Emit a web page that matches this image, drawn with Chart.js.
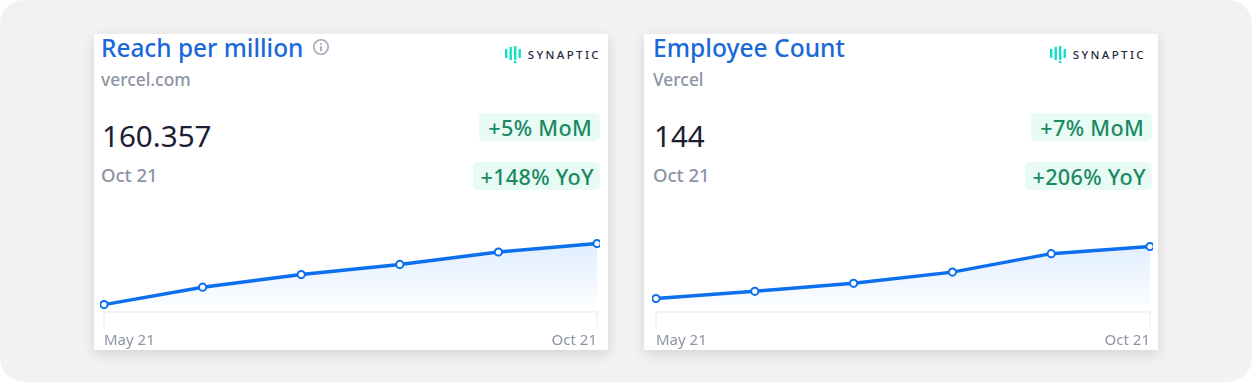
<!DOCTYPE html>
<html>
<head>
<meta charset="utf-8">
<script src="https://cdn.jsdelivr.net/npm/chart.js@4"></script>
<style>
html,body{margin:0;padding:0;background:#fff;}
#page{position:relative;width:1252px;height:382px;background:#f2f2f2;border-radius:24px;overflow:hidden;font-family:"Noto Sans",sans-serif;}
.card{position:absolute;top:34px;width:514px;height:316px;background:#fff;box-shadow:0 4px 12px rgba(0,0,0,0.13);}
.title{position:absolute;left:6px;top:-2px;font-size:24.6px;line-height:32px;font-weight:500;color:#1a69d8;white-space:nowrap;}
.sub{position:absolute;left:7px;top:33.5px;font-size:17.4px;line-height:22px;font-weight:500;color:#8d93a5;}
.value{position:absolute;left:8px;top:82px;font-size:29.6px;line-height:40px;color:#1b2033;}
.date{position:absolute;left:7px;top:130px;font-size:18.5px;line-height:22px;font-weight:500;color:#8d93a5;}
.badge{position:absolute;right:8px;height:28px;line-height:29px;padding:0 6px 0 8px;background:#e8fbf4;border-radius:5px;color:#1b8a63;font-size:21.6px;font-weight:500;letter-spacing:0.3px;white-space:nowrap;}
.mom{padding:0 8px 0 9px;}
.logo{position:absolute;right:9px;top:11px;height:18px;display:flex;align-items:center;}
.logo svg{margin-right:6px;}
.logo span{font-size:11.5px;font-weight:500;letter-spacing:2.35px;color:#1f2a44;margin-right:-2px;}
.info{position:absolute;left:218px;top:4px;}
canvas{position:absolute;}
</style>
</head>
<body>
<div id="page">
  <div class="card" style="left:94px">
    <div class="title" style="left:7px;font-size:24.4px">Reach per million</div>
    <svg class="info" width="18" height="18" viewBox="0 0 18 18"><circle cx="9" cy="9" r="7.2" fill="none" stroke="#a4a9b6" stroke-width="1.6"/><rect x="8.2" y="8" width="1.7" height="5" fill="#a4a9b6"/><rect x="8.2" y="5" width="1.7" height="1.8" fill="#a4a9b6"/></svg>
    <div class="sub">vercel.com</div>
    <div class="value">160.357</div>
    <div class="date">Oct 21</div>
    <div class="logo"><svg width="17" height="18" viewBox="0 0 17 18" fill="#10e0c8"><rect x="0" y="4" width="2.4" height="9"/><rect x="4.5" y="2" width="2.4" height="13"/><rect x="9" y="1" width="2.4" height="14"/><rect x="9" y="16" width="2.4" height="2"/><rect x="13.5" y="4" width="2.4" height="9"/></svg><span>SYNAPTIC</span></div>
    <div class="badge mom" style="top:79px">+5% MoM</div>
    <div class="badge" style="top:128px">+148% YoY</div>
    <canvas id="reachChart"></canvas>
  </div>
  <div class="card" style="left:644px">
    <div class="title" style="left:9px">Employee Count</div>
    <div class="sub" style="left:9px">Vercel</div>
    <div class="value" style="left:10px">144</div>
    <div class="date" style="left:9px">Oct 21</div>
    <div class="logo" style="right:14px"><svg width="17" height="18" viewBox="0 0 17 18" fill="#10e0c8"><rect x="0" y="4" width="2.4" height="9"/><rect x="4.5" y="2" width="2.4" height="13"/><rect x="9" y="1" width="2.4" height="14"/><rect x="9" y="16" width="2.4" height="2"/><rect x="13.5" y="4" width="2.4" height="9"/></svg><span>SYNAPTIC</span></div>
    <div class="badge mom" style="top:79px;right:6px">+7% MoM</div>
    <div class="badge" style="top:128px;right:6px">+206% YoY</div>
    <canvas id="employeeChart"></canvas>
  </div>
</div>
<script>
var months = ['May 21', 'Jun 21', 'Jul 21', 'Aug 21', 'Sep 21', 'Oct 21'];
var reachValues = [105.4, 121, 132.4, 141.5, 152.7, 160.357];
var employeeValues = [79, 88, 98, 112, 135, 144];

function makeChart(id, values, yMin, yMax, left, width) {
    var canvas = document.getElementById(id);
    canvas.style.left = left + 'px';
    canvas.style.top = '166px';
    canvas.width = width;
    canvas.height = 150;
    return new Chart(canvas, {
        type: 'line',
        data: {
            labels: months,
            datasets: [{
                data: values,
                borderColor: '#0b6fee',
                borderWidth: 3.4,
                pointRadius: 3.6,
                pointBorderWidth: 2,
                pointBackgroundColor: '#ffffff',
                pointBorderColor: '#0b6fee',
                tension: 0,
                fill: 'start',
                clip: false,
                backgroundColor: function (ctx) {
                    var area = ctx.chart.chartArea;
                    if (!area) return 'rgba(20,125,255,0.1)';
                    var top = ctx.chart.scales.y.getPixelForValue(values[values.length - 1]);
                    var g = ctx.chart.ctx.createLinearGradient(0, top, 0, area.bottom);
                    g.addColorStop(0, 'rgba(20,125,255,0.13)');
                    g.addColorStop(1, 'rgba(20,125,255,0)');
                    return g;
                }
            }]
        },
        options: {
            responsive: false,
            animation: false,
            layout: { autoPadding: false, padding: { left: 4, right: 3, top: 0, bottom: 0 } },
            plugins: { legend: { display: false }, tooltip: { enabled: false } },
            scales: {
                y: { display: false, min: yMin, max: yMax },
                x: {
                    offset: false,
                    // fixed axis band, and no side padding from the tick labels
                    afterFit: function (scale) {
                        scale.height = 38;
                        scale.paddingLeft = 0;
                        scale.paddingRight = 0;
                    },
                    border: { color: '#f2f4f7', width: 2 },
                    grid: {
                        drawOnChartArea: false,
                        tickLength: 14,
                        lineWidth: 2,
                        tickColor: function (ctx) {
                            return (ctx.index === 0 || ctx.index === months.length - 1) ? '#f2f4f7' : 'rgba(0,0,0,0)';
                        }
                    },
                    ticks: {
                        autoSkip: false,
                        maxRotation: 0,
                        minRotation: 0,
                        align: 'inner',
                        padding: 6,
                        color: '#8d93a5',
                        font: { family: '"Noto Sans"', size: 15 },
                        callback: function (v, i) {
                            return (i === 0 || i === months.length - 1) ? months[i] : '';
                        }
                    }
                }
            }
        }
    });
}

makeChart('reachChart', reachValues, 98.7, 199.5, 6, 500);
makeChart('employeeChart', employeeValues, 62.1, 202.1, 8, 501);
</script>
</body>
</html>
